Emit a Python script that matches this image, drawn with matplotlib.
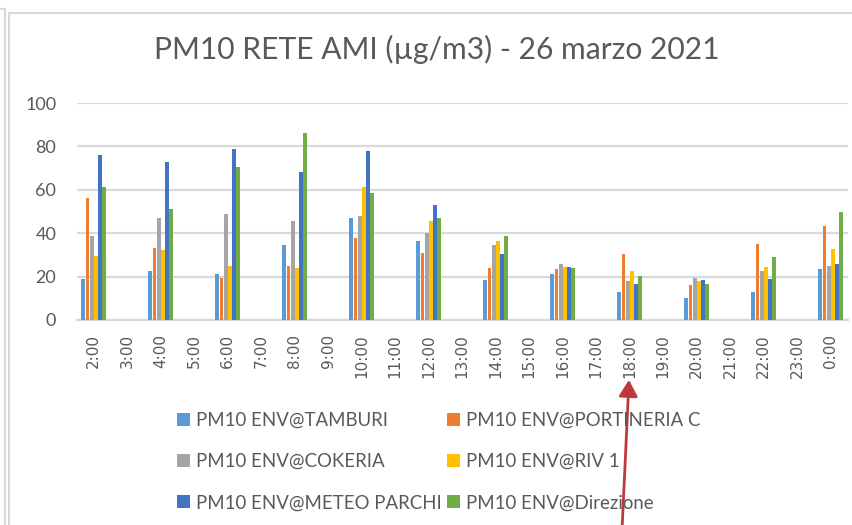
import numpy as np
import matplotlib
matplotlib.use("Agg")
import matplotlib.pyplot as plt
from matplotlib.lines import Line2D
from matplotlib.patches import FancyArrowPatch

# hourly PM10 values, only the even hours have data
hours = ["2:00", "3:00", "4:00", "5:00", "6:00", "7:00", "8:00", "9:00",
         "10:00", "11:00", "12:00", "13:00", "14:00", "15:00", "16:00",
         "17:00", "18:00", "19:00", "20:00", "21:00", "22:00", "23:00", "0:00"]
n = np.nan
tamburi    = [18.9, n, 22.8, n, 21.2, n, 34.5, n, 46.8, n, 36.2, n, 18.5, n, 21.2, n, 12.9, n, 10.2, n, 12.9, n, 23.4]
portineria = [56.2, n, 33.4, n, 19.5, n, 25.1, n, 37.8, n, 31.1, n, 24.0, n, 23.4, n, 30.2, n, 16.3, n, 35.1, n, 43.4]
cokeria    = [38.5, n, 47.2, n, 48.9, n, 45.5, n, 47.8, n, 40.2, n, 34.6, n, 25.7, n, 17.8, n, 19.5, n, 22.8, n, 25.1]
riv1       = [29.7, n, 32.3, n, 25.1, n, 24.0, n, 61.5, n, 45.7, n, 36.2, n, 24.6, n, 22.8, n, 17.8, n, 24.6, n, 32.9]
meteo      = [76.2, n, 72.9, n, 78.9, n, 68.3, n, 77.7, n, 52.8, n, 30.2, n, 24.6, n, 16.8, n, 18.5, n, 19.1, n, 25.7]
direzione  = [61.5, n, 51.2, n, 70.6, n, 86.2, n, 58.3, n, 46.8, n, 38.9, n, 24.0, n, 20.2, n, 16.8, n, 29.1, n, 50.0]

series = [tamburi, portineria, cokeria, riv1, meteo, direzione]
names = ["PM10 ENV@TAMBURI", "PM10 ENV@PORTINERIA C", "PM10 ENV@COKERIA",
         "PM10 ENV@RIV 1", "PM10 ENV@METEO PARCHI", "PM10 ENV@Direzione"]
colors = ["#5B9BD5", "#ED7D31", "#A5A5A5", "#FFC000", "#4472C4", "#70AD47"]

txt = "#595959"
grid = "#D9D9D9"
W, H = 852, 525

fig = plt.figure(figsize=(W / 100, H / 100), dpi=100)
ax = fig.add_axes([77 / W, 1 - 320 / H, 770.5 / W, (320 - 103) / H])

x = np.arange(len(hours))
bw = 0.125
bars = []
for i, (vals, nm, c) in enumerate(zip(series, names, colors)):
    b = ax.bar(x + (i - 2.5) * bw, vals, width=bw * 0.92, color=c, label=nm, zorder=3)
    bars.append(b)

ax.set_xlim(-0.5, len(hours) - 0.5)
ax.set_ylim(0, 100)
ax.set_yticks(range(0, 101, 20))
ax.set_xticks(x)
ax.set_xticklabels(hours, rotation=90, fontsize=11, color=txt, family="DejaVu Sans")
for lb in ax.get_yticklabels():
    lb.set_fontsize(13)
    lb.set_color(txt)
    lb.set_family("Lato")
ax.tick_params(axis="both", length=0)
ax.tick_params(axis="y", pad=15)
ax.tick_params(axis="x", pad=10)
ax.grid(axis="y", color=grid, lw=1.6, zorder=0)
ax.set_axisbelow(True)
for s in ["top", "right", "left"]:
    ax.spines[s].set_visible(False)
ax.spines["bottom"].set_color(grid)
ax.spines["bottom"].set_linewidth(1.6)

fig.text(437 / W, 1 - 59 / H, "PM10 RETE AMI (\u00b5g/m3) - 26 marzo 2021",
         ha="center", va="baseline", fontsize=21.6, color=txt, family="Lato")

order = [0, 2, 4, 1, 3, 5]
leg = fig.legend([bars[k] for k in order], [names[k] for k in order], ncol=2,
                 loc="upper left", bbox_to_anchor=(177 / W, 1 - 412 / H),
                 frameon=False, prop={"family": "Lato", "size": 13.4},
                 labelcolor=txt, handlelength=0.7, handleheight=0.7,
                 handletextpad=0.3, columnspacing=0.3, labelspacing=1.3,
                 borderaxespad=0, borderpad=0)

# chart frame lines
fig.add_artist(Line2D([5 / W, 5 / W], [0, 1 - 9 / H], color=grid, lw=1.5))
fig.add_artist(Line2D([0, 5 / W], [1 - 9 / H, 1 - 9 / H], color=grid, lw=1.5))
fig.add_artist(Line2D([9 / W, 9 / W], [0, 1 - 13 / H], color=grid, lw=1.5))
fig.add_artist(Line2D([9 / W, 1], [1 - 13 / H, 1 - 13 / H], color=grid, lw=1.5))

# red arrow pointing at 18:00
fig.add_artist(FancyArrowPatch(
    (622 / W, -0.01), (629 / W, 1 - 380 / H), transform=fig.transFigure,
    arrowstyle="-|>,head_length=0.55,head_width=0.32", mutation_scale=18,
    shrinkA=0, shrinkB=0, color="#BE3A3A", lw=2))

fig.savefig("out.png", dpi=100)
